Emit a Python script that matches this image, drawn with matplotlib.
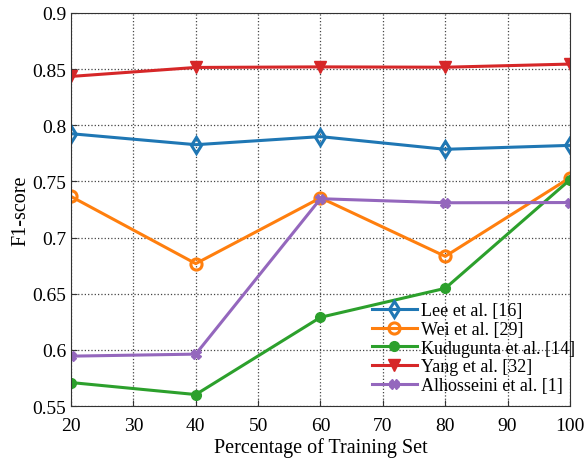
import matplotlib
matplotlib.use('Agg')
import matplotlib.pyplot as plt

# training set percentages
pct = [20, 40, 60, 80, 100]

# F1-scores
lee = [0.7925, 0.7827, 0.7899, 0.7786, 0.7821]
wei = [0.7366, 0.6768, 0.7354, 0.6833, 0.7533]
kudugunta = [0.5709, 0.5602, 0.6290, 0.6548, 0.7515]
yang = [0.8435, 0.8515, 0.8520, 0.8517, 0.8545]
alhosseini = [0.5944, 0.5962, 0.7346, 0.7310, 0.7312]

labels = ['Lee et al. [16]', 'Wei et al. [29]', 'Kudugunta et al. [14]',
          'Yang et al. [32]', 'Alhosseini et al. [1]']

plt.rcParams['font.family'] = ['Liberation Serif', 'DejaVu Serif']

fig = plt.figure(figsize=(5.84, 4.6), dpi=100)
ax = fig.add_axes([0.1216, 0.1152, 0.8544, 0.8544])

lw = 2.2
ax.plot(pct, lee, color='#1f77b4', lw=lw, marker='d', ms=8, mfc='none', mew=2.2, label=labels[0])
ax.plot(pct, wei, color='#ff7f0e', lw=lw, marker='o', ms=8, mfc='none', mew=2.2, label=labels[1])
ax.plot(pct, kudugunta, color='#2ca02c', lw=lw, marker='o', ms=7, label=labels[2])
ax.plot(pct, yang, color='#d62728', lw=lw, marker='v', ms=9, label=labels[3])
ax.plot(pct, alhosseini, color='#9467bd', lw=lw, marker='X', ms=6.5, label=labels[4])

ax.set_xlim(20, 100)
ax.set_ylim(0.55, 0.9)
ax.set_xticks(range(20, 101, 10))
ax.set_yticks([0.55, 0.6, 0.65, 0.7, 0.75, 0.8, 0.85, 0.9])
ax.set_yticklabels(['0.55', '0.6', '0.65', '0.7', '0.75', '0.8', '0.85', '0.9'])
ax.tick_params(direction='in', labelsize=14, length=4, color='#333333')
ax.tick_params(axis='x', pad=8)
ax.grid(True, ls=':', color='#444444', lw=0.9)
for s in ax.spines.values():
    s.set_color('#333333')

ax.set_xlabel('Percentage of Training Set', fontsize=14.5, labelpad=2.5)
ax.set_ylabel('F1-score', fontsize=14.5, labelpad=1)

ax.legend(loc='lower right', bbox_to_anchor=(1.033, 0.0), frameon=False, fontsize=13,
          handlelength=2.5, labelspacing=0.1, borderaxespad=0.25, handletextpad=0.2)

fig.savefig('out.png', dpi=100)
